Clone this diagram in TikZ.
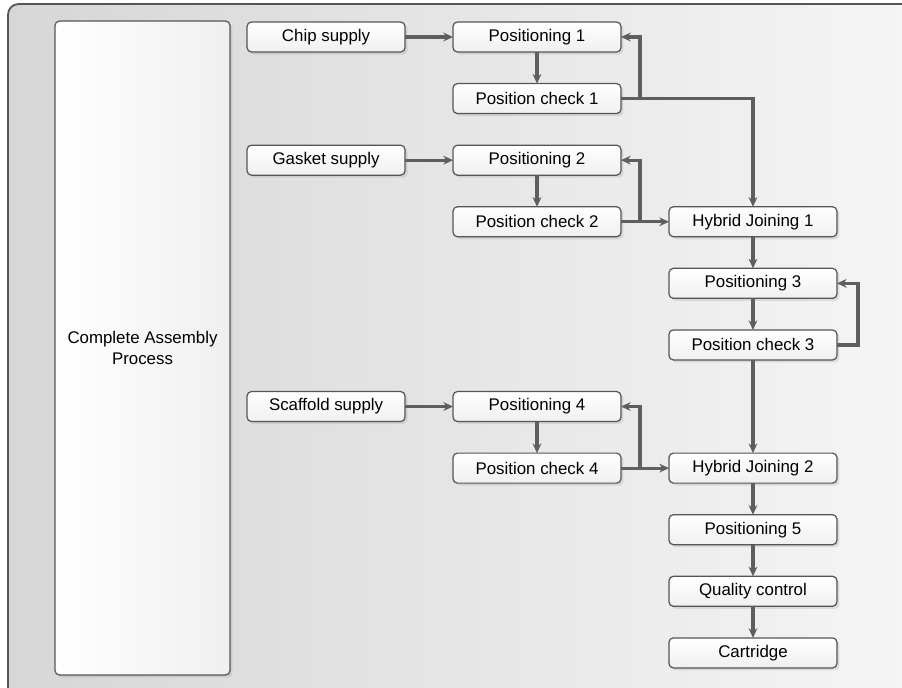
\documentclass[tikz,border=0pt]{standalone}
\usepackage{fontspec}
\setmainfont{Liberation Sans}
\usetikzlibrary{arrows.meta,positioning,shadows}

\definecolor{framegray}{HTML}{555555}
\definecolor{linegray}{HTML}{5E5E5E}

\begin{document}
\begin{tikzpicture}[
  x=0.02cm, y=-0.02cm,
  node distance=0.632cm and 0.96cm,
  box/.style={rectangle, rounded corners=2.5pt, draw=framegray, line width=0.7pt, outer sep=0pt,
    minimum width=3.36cm, minimum height=0.6cm, top color=white, bottom color=gray!12,
    font=\fontsize{9.6}{11.5}\selectfont,
    drop shadow={shadow xshift=0.05cm, shadow yshift=-0.05cm, opacity=0.2}},
  supply/.style={box, minimum width=3.16cm},
  arrow/.style={-{Stealth[length=5.5pt,width=5pt]}, line width=1.8pt, draw=linegray}
]

\useasboundingbox (0,0) rectangle (902,687);
\fill[white] (0,0) rectangle (902,687);
\begin{scope}
  \clip (0,0) rectangle (902,687);
  \draw[rounded corners=6pt, draw=framegray, line width=1pt, left color=gray!32, right color=gray!7]
    (8,4) rectangle (940,730);
\end{scope}

\node[box, minimum width=3.5cm, minimum height=13.08cm, left color=white, right color=gray!12, align=center] (whole) at (142.5,348) {Complete Assembly\\Process};

% positioning column
\node[box] (pos1) at (537,37) {Positioning 1};
\node[box, below=of pos1] (chk1) {Position check 1};
\node[box, below=of chk1] (pos2) {Positioning 2};
\node[box, below=of pos2] (chk2) {Position check 2};
\node[box, below=3.096cm of chk2] (pos4) {Positioning 4};
\node[box, below=of pos4] (chk4) {Position check 4};

% supplies
\node[supply, left=of pos1] (chip) {Chip supply};
\node[supply, left=of pos2] (gasket) {Gasket supply};
\node[supply, left=of pos4] (scaffold) {Scaffold supply};

% joining column
\node[box, right=of chk2] (hyb1) {Hybrid Joining 1};
\node[box, below=of hyb1] (pos3) {Positioning 3};
\node[box, below=of pos3] (chk3) {Position check 3};
\node[box, right=of chk4] (hyb2) {Hybrid Joining 2};
\node[box, below=of hyb2] (pos5) {Positioning 5};
\node[box, below=of pos5] (qc) {Quality control};
\node[box, below=of qc] (cart) {Cartridge};

\draw[arrow] (chip) -- (pos1);
\draw[arrow] (pos1) -- (chk1);
\draw[arrow] (chk1.east) -- ++(19,0) |- (pos1.east);
\draw[arrow] (chk1.east) -| (hyb1.north);

\draw[arrow] (gasket) -- (pos2);
\draw[arrow] (pos2) -- (chk2);
\draw[arrow] (chk2.east) -- ++(19,0) |- (pos2.east);
\draw[arrow] (chk2) -- (hyb1);

\draw[arrow] (hyb1) -- (pos3);
\draw[arrow] (pos3) -- (chk3);
\draw[arrow] (chk3.east) -- ++(21,0) |- (pos3.east);
\draw[arrow] (chk3) -- (hyb2);

\draw[arrow] (scaffold) -- (pos4);
\draw[arrow] (pos4) -- (chk4);
\draw[arrow] (chk4.east) -- ++(19,0) |- (pos4.east);
\draw[arrow] (chk4) -- (hyb2);

\draw[arrow] (hyb2) -- (pos5);
\draw[arrow] (pos5) -- (qc);
\draw[arrow] (qc) -- (cart);

\end{tikzpicture}
\end{document}
